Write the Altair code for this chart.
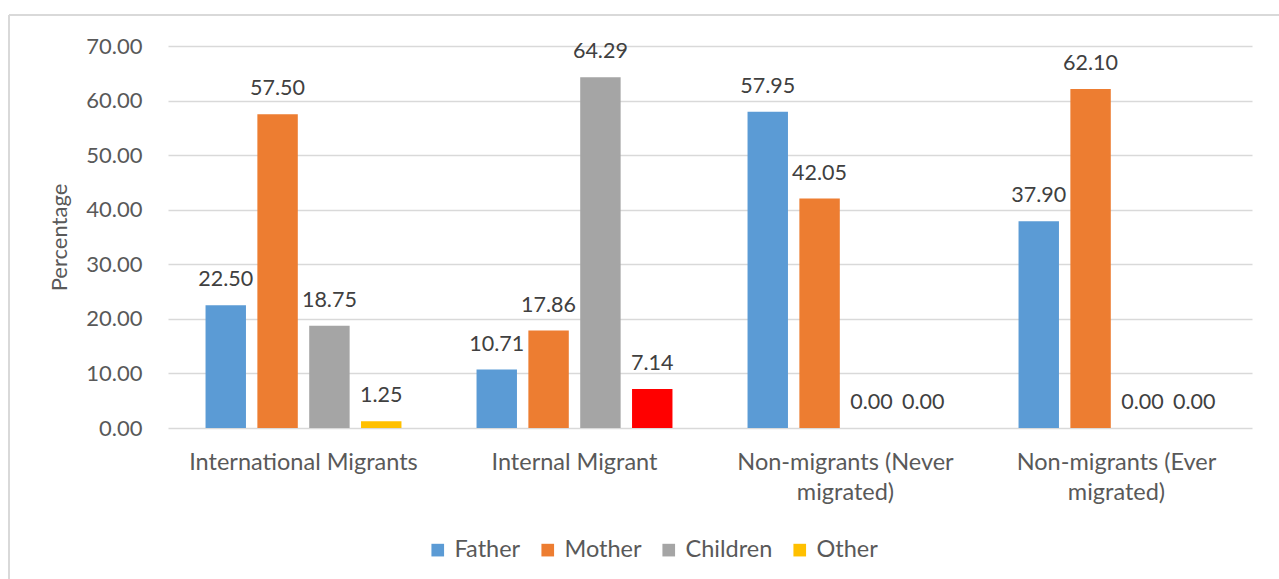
import altair as alt
import pandas as pd

# Who the respondents live with, by migration status (percent)
groups = [
    "International Migrants",
    "Internal Migrant",
    "Non-migrants (Never migrated)",
    "Non-migrants (Ever migrated)",
]
series = ["Father", "Mother", "Children", "Other"]
father = [22.50, 10.71, 57.95, 37.90]
mother = [57.50, 17.86, 42.05, 62.10]
children = [18.75, 64.29, 0.00, 0.00]
other = [1.25, 7.14, 0.00, 0.00]
colors = ["#5B9BD5", "#ED7D31", "#A5A5A5", "#FFC000"]
highlight_color = "#FF0000"

rows = []
for name, values in zip(series, [father, mother, children, other]):
    for g, v in zip(groups, values):
        rows.append({"group": g, "series": name, "value": v})
df = pd.DataFrame(rows)

FONT = "Lato"
W, H = 1084, 382
LEFT, TOP = 168, 46

x_enc = alt.X(
    "group:N",
    sort=groups,
    scale=alt.Scale(paddingInner=0.277, paddingOuter=0.1385),
    axis=alt.Axis(
        title=None,
        labelAngle=0,
        labelFontSize=23.5,
        labelColor="#595959",
        labelPadding=22,
        labelLineHeight=30,
        labelLimit=0,
        labelExpr="split(replace(datum.label, ' migrated)', '|migrated)'), '|')",
        domain=False,
        ticks=False,
        labelFont=FONT,
    ),
)
xoff = alt.XOffset("series:N", sort=series, scale=alt.Scale(paddingInner=0.22))
y_enc = alt.Y(
    "value:Q",
    scale=alt.Scale(domain=[0, 70], nice=False),
    axis=alt.Axis(
        title="Percentage",
        titleFont=FONT,
        titleFontSize=22,
        titleFontWeight="normal",
        titleColor="#595959",
        titlePadding=14,
        values=[0, 10, 20, 30, 40, 50, 60, 70],
        format=".2f",
        labelFont=FONT,
        labelFontSize=22,
        labelColor="#595959",
        labelPadding=26,
        domain=False,
        ticks=False,
        gridColor="#D9D9D9",
        gridWidth=1.4,
    ),
)

color_scale = alt.Scale(domain=series, range=colors)

bars = alt.Chart(df).mark_bar().encode(
    x=x_enc,
    xOffset=xoff,
    y=y_enc,
    color=alt.condition(
        "datum.group == 'Internal Migrant' && datum.series == 'Other'",
        alt.value(highlight_color),
        alt.Color(
            "series:N",
            sort=series,
            scale=color_scale,
            legend=alt.Legend(
                title=None,
                orient="none",
                direction="horizontal",
                legendX=258,
                legendY=492,
                symbolType="square",
                symbolSize=160,
                symbolStrokeWidth=0,
                labelFont=FONT,
                labelFontSize=23.5,
                labelColor="#595959",
                labelOffset=5,
                columnPadding=15,
            ),
        ),
    ),
)

labels = alt.Chart(df).mark_text(
    baseline="alphabetic", dy=-19, font=FONT, fontSize=21.5, color="#404040"
).encode(
    x=alt.X("group:N", sort=groups),
    xOffset=alt.XOffset("series:N", sort=series),
    y="value:Q",
    text=alt.Text("value:Q", format=".2f"),
)

# chart-area frame (top and left edges)
frame_top = alt.Chart(df).mark_rule(color="#D9D9D9", strokeWidth=1.5).encode(
    x=alt.value(9 - LEFT), x2=alt.value(1279 - LEFT), y=alt.value(15 - TOP)
)
frame_left = alt.Chart(df).mark_rule(color="#D9D9D9", strokeWidth=1.5).encode(
    x=alt.value(9 - LEFT), y=alt.value(15 - TOP), y2=alt.value(579 - TOP)
)

chart = (
    alt.layer(bars, labels, frame_top, frame_left)
    .properties(
        width=W,
        height=H,
        autosize=alt.AutoSizeParams(type="none"),
        padding={"left": LEFT, "top": TOP, "right": 1279 - LEFT - W, "bottom": 579 - TOP - H},
        background="white",
    )
    .configure_view(stroke=None)
)

chart.save("out.html", embed_options={"renderer": "svg", "actions": False})
